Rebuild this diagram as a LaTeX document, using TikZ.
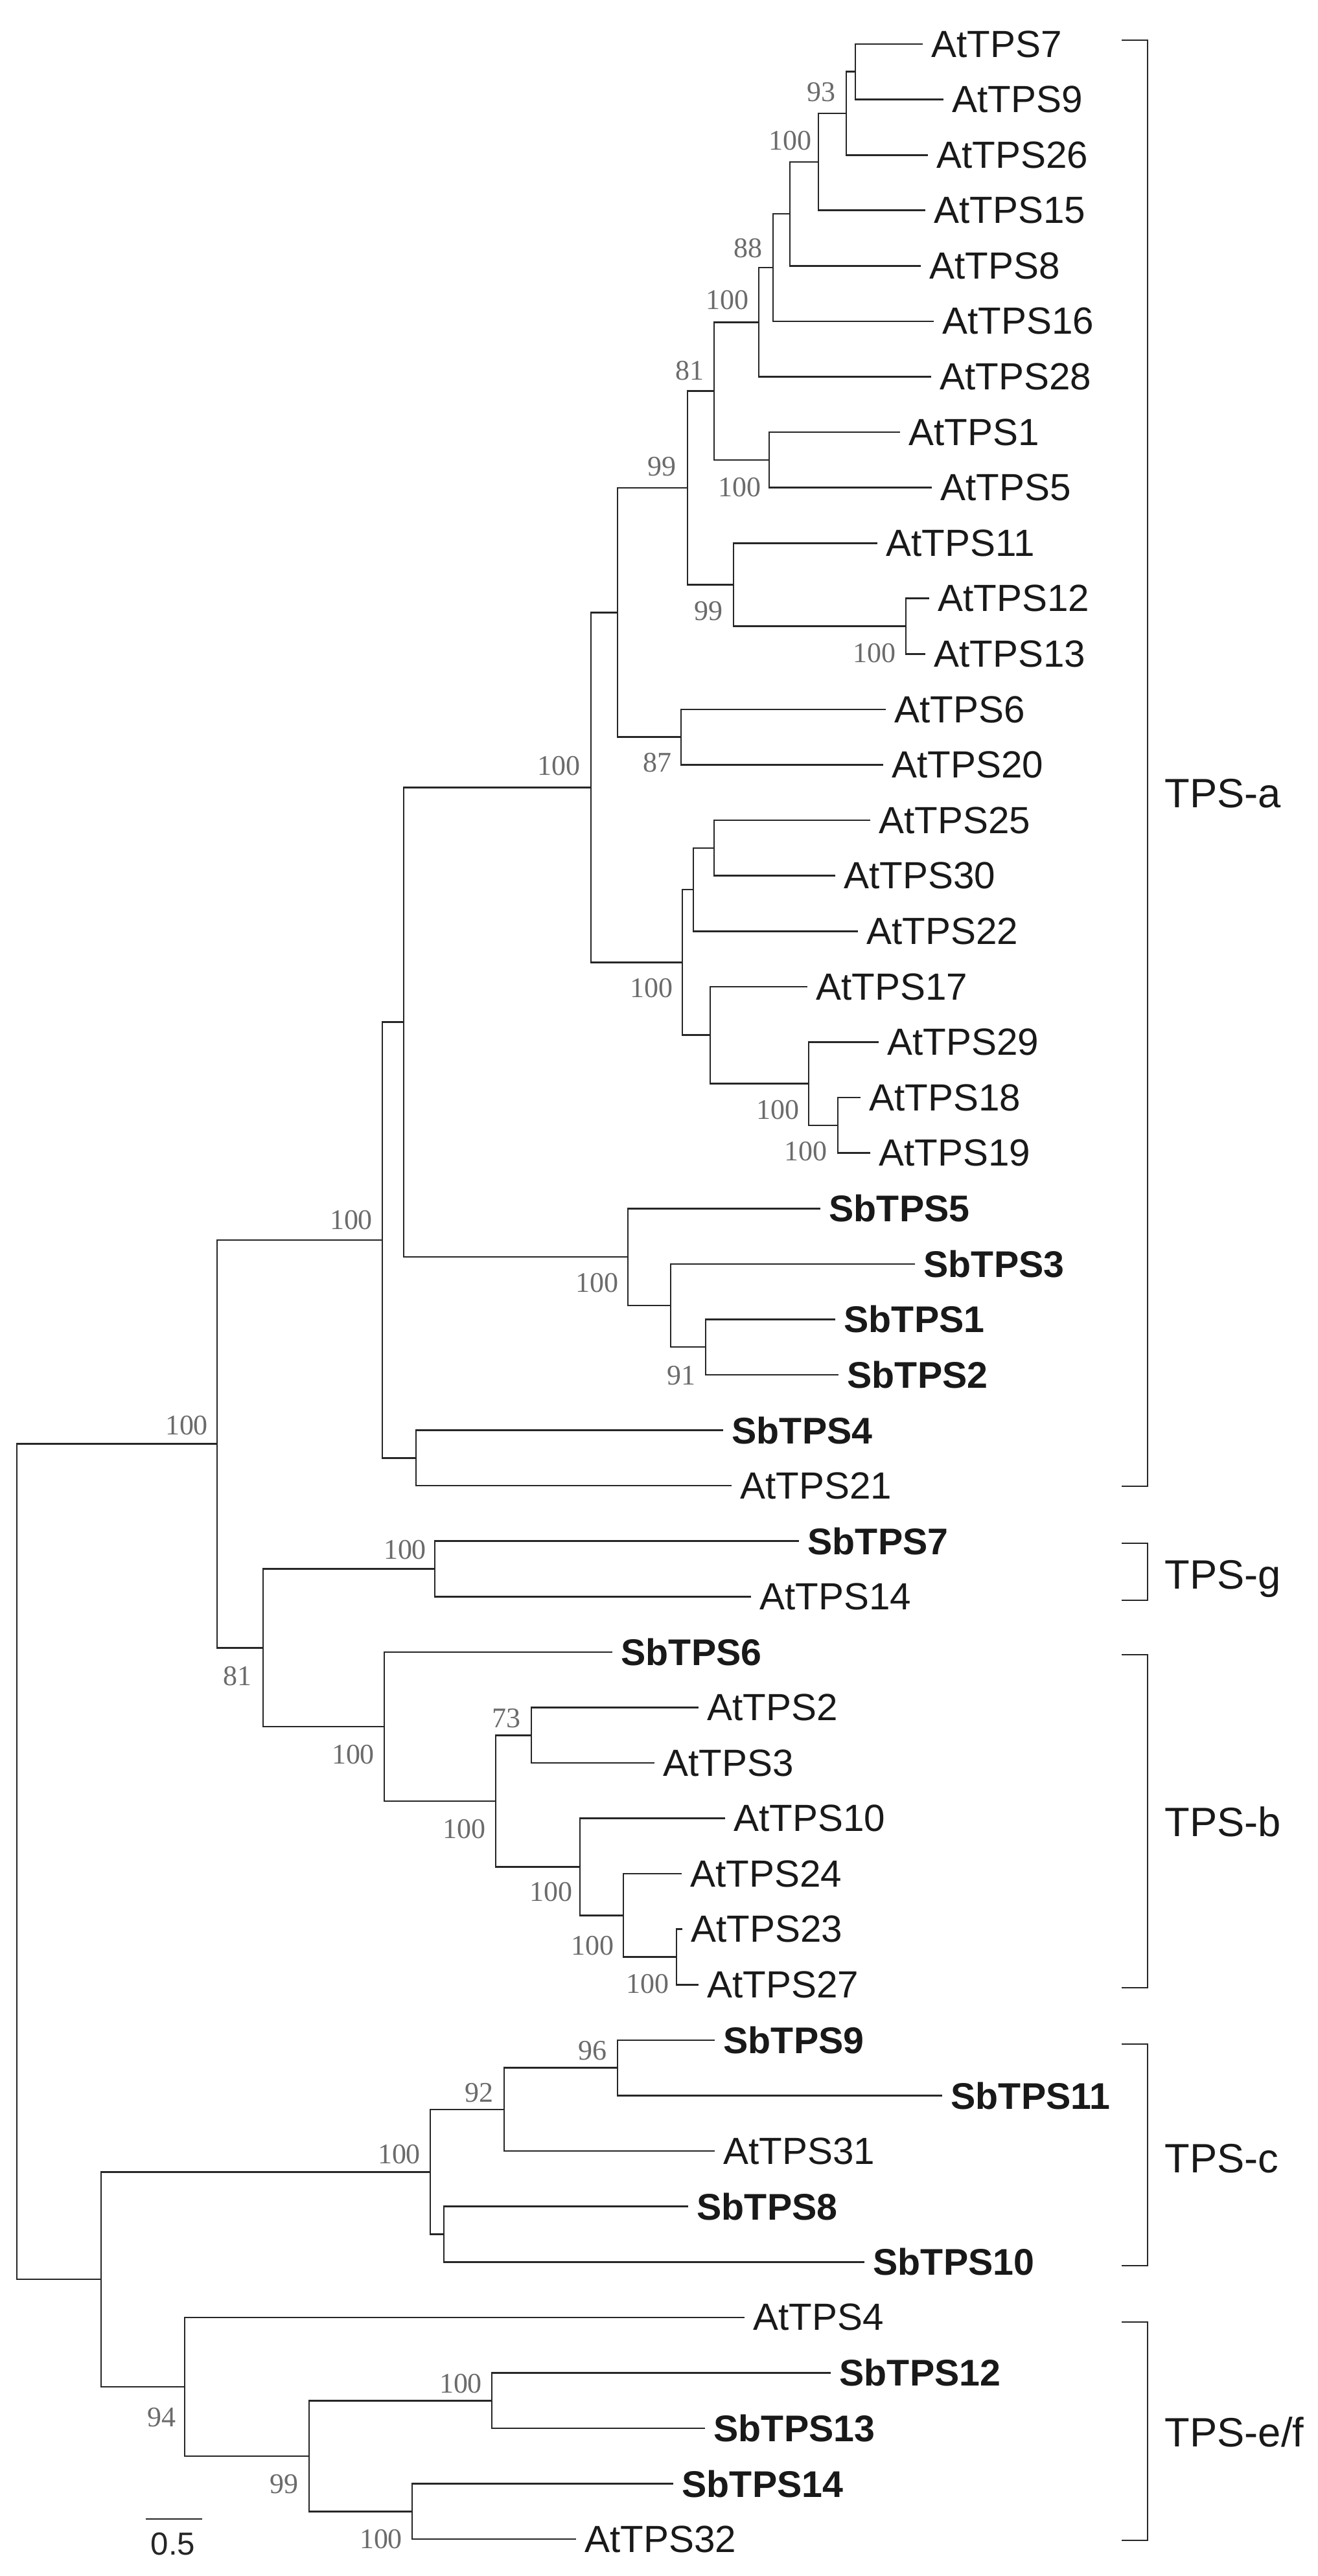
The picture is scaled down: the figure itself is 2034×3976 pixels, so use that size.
\documentclass[tikz,border=0pt]{standalone}
\usepackage{fontspec}
\setmainfont{Liberation Sans}
\newfontfamily\bsfont{Liberation Serif}
\begin{document}
\begin{tikzpicture}[x=0.01cm,y=-0.01cm,
  br/.style={draw=black!85, line width=0.75pt, line cap=rect, line join=miter},
  leafA/.style={anchor=west, inner sep=0pt, font=\fontsize{16.6}{18}\selectfont, text=black!90},
  leafS/.style={anchor=west, inner sep=0pt, font=\fontsize{16.3}{18}\selectfont\bfseries, text=black!90},
  bs/.style={inner sep=0pt, font=\bsfont\fontsize{12.5}{14}\selectfont, text=black!58},
  grp/.style={anchor=west, inner sep=0pt, font=\fontsize{18}{20}\selectfont, text=black!90}]
\fill[white] (0,0) rectangle (2034,3976);
\useasboundingbox (0,0) rectangle (2034,3976);
\clip (0,0) rectangle (2034,3946);

% ---------- leaf tips ----------
\coordinate (t0) at (1423,68.0);
\coordinate (t1) at (1455,153.6);
\coordinate (t2) at (1431,239.2);
\coordinate (t3) at (1427,324.7);
\coordinate (t4) at (1420,410.3);
\coordinate (t5) at (1440,495.9);
\coordinate (t6) at (1436,581.5);
\coordinate (t7) at (1388,667.1);
\coordinate (t8) at (1437,752.6);
\coordinate (t9) at (1353,838.2);
\coordinate (t10) at (1433,923.8);
\coordinate (t11) at (1427,1009.4);
\coordinate (t12) at (1366,1095.0);
\coordinate (t13) at (1362,1180.5);
\coordinate (t14) at (1342,1266.1);
\coordinate (t15) at (1288,1351.7);
\coordinate (t16) at (1323,1437.3);
\coordinate (t17) at (1245,1522.9);
\coordinate (t18) at (1355,1608.4);
\coordinate (t19) at (1327,1694.0);
\coordinate (t20) at (1342,1779.6);
\coordinate (t21) at (1265,1865.2);
\coordinate (t22) at (1411,1950.8);
\coordinate (t23) at (1288,2036.3);
\coordinate (t24) at (1293,2121.9);
\coordinate (t25) at (1115,2207.5);
\coordinate (t26) at (1128,2293.1);
\coordinate (t27) at (1232,2378.7);
\coordinate (t28) at (1158,2464.2);
\coordinate (t29) at (944,2549.8);
\coordinate (t30) at (1077,2635.4);
\coordinate (t31) at (1009,2721.0);
\coordinate (t32) at (1118,2806.6);
\coordinate (t33) at (1051,2892.1);
\coordinate (t34) at (1052,2977.7);
\coordinate (t35) at (1077,3063.3);
\coordinate (t36) at (1102,3148.9);
\coordinate (t37) at (1453,3234.5);
\coordinate (t38) at (1102,3320.0);
\coordinate (t39) at (1061,3405.6);
\coordinate (t40) at (1333,3491.2);
\coordinate (t41) at (1148,3576.8);
\coordinate (t42) at (1281,3662.4);
\coordinate (t43) at (1087,3747.9);
\coordinate (t44) at (1038,3833.5);
\coordinate (t45) at (888,3919.1);

% ---------- leaf labels ----------
\node[leafA] (l0) at ([xshift=0.14cm]t0) {AtTPS7};
\node[leafA] (l1) at ([xshift=0.14cm]t1) {AtTPS9};
\node[leafA] (l2) at ([xshift=0.14cm]t2) {AtTPS26};
\node[leafA] (l3) at ([xshift=0.14cm]t3) {AtTPS15};
\node[leafA] (l4) at ([xshift=0.14cm]t4) {AtTPS8};
\node[leafA] (l5) at ([xshift=0.14cm]t5) {AtTPS16};
\node[leafA] (l6) at ([xshift=0.14cm]t6) {AtTPS28};
\node[leafA] (l7) at ([xshift=0.14cm]t7) {AtTPS1};
\node[leafA] (l8) at ([xshift=0.14cm]t8) {AtTPS5};
\node[leafA] (l9) at ([xshift=0.14cm]t9) {AtTPS11};
\node[leafA] (l10) at ([xshift=0.14cm]t10) {AtTPS12};
\node[leafA] (l11) at ([xshift=0.14cm]t11) {AtTPS13};
\node[leafA] (l12) at ([xshift=0.14cm]t12) {AtTPS6};
\node[leafA] (l13) at ([xshift=0.14cm]t13) {AtTPS20};
\node[leafA] (l14) at ([xshift=0.14cm]t14) {AtTPS25};
\node[leafA] (l15) at ([xshift=0.14cm]t15) {AtTPS30};
\node[leafA] (l16) at ([xshift=0.14cm]t16) {AtTPS22};
\node[leafA] (l17) at ([xshift=0.14cm]t17) {AtTPS17};
\node[leafA] (l18) at ([xshift=0.14cm]t18) {AtTPS29};
\node[leafA] (l19) at ([xshift=0.14cm]t19) {AtTPS18};
\node[leafA] (l20) at ([xshift=0.14cm]t20) {AtTPS19};
\node[leafS] (l21) at ([xshift=0.14cm]t21) {SbTPS5};
\node[leafS] (l22) at ([xshift=0.14cm]t22) {SbTPS3};
\node[leafS] (l23) at ([xshift=0.14cm]t23) {SbTPS1};
\node[leafS] (l24) at ([xshift=0.14cm]t24) {SbTPS2};
\node[leafS] (l25) at ([xshift=0.14cm]t25) {SbTPS4};
\node[leafA] (l26) at ([xshift=0.14cm]t26) {AtTPS21};
\node[leafS] (l27) at ([xshift=0.14cm]t27) {SbTPS7};
\node[leafA] (l28) at ([xshift=0.14cm]t28) {AtTPS14};
\node[leafS] (l29) at ([xshift=0.14cm]t29) {SbTPS6};
\node[leafA] (l30) at ([xshift=0.14cm]t30) {AtTPS2};
\node[leafA] (l31) at ([xshift=0.14cm]t31) {AtTPS3};
\node[leafA] (l32) at ([xshift=0.14cm]t32) {AtTPS10};
\node[leafA] (l33) at ([xshift=0.14cm]t33) {AtTPS24};
\node[leafA] (l34) at ([xshift=0.14cm]t34) {AtTPS23};
\node[leafA] (l35) at ([xshift=0.14cm]t35) {AtTPS27};
\node[leafS] (l36) at ([xshift=0.14cm]t36) {SbTPS9};
\node[leafS] (l37) at ([xshift=0.14cm]t37) {SbTPS11};
\node[leafA] (l38) at ([xshift=0.14cm]t38) {AtTPS31};
\node[leafS] (l39) at ([xshift=0.14cm]t39) {SbTPS8};
\node[leafS] (l40) at ([xshift=0.14cm]t40) {SbTPS10};
\node[leafA] (l41) at ([xshift=0.14cm]t41) {AtTPS4};
\node[leafS] (l42) at ([xshift=0.14cm]t42) {SbTPS12};
\node[leafS] (l43) at ([xshift=0.14cm]t43) {SbTPS13};
\node[leafS] (l44) at ([xshift=0.14cm]t44) {SbTPS14};
\node[leafA] (l45) at ([xshift=0.14cm]t45) {AtTPS32};

% ---------- internal nodes ----------
\coordinate (N1) at (1320,110.8);
\coordinate (N2) at (1306,175.0);
\coordinate (N3) at (1263,249.9);
\coordinate (N4) at (1219,330.1);
\coordinate (N5) at (1193,413.0);
\coordinate (N6) at (1171,497.3);
\coordinate (N15) at (1187,709.9);
\coordinate (N7) at (1102,603.6);
\coordinate (N1213) at (1398,966.6);
\coordinate (Nk11) at (1132,902.4);
\coordinate (N8) at (1061,753.0);
\coordinate (N620) at (1051,1137.8);
\coordinate (N9) at (953,945.4);
\coordinate (N2530) at (1102,1308.9);
\coordinate (N22) at (1070,1373.1);
\coordinate (N1819) at (1293,1736.8);
\coordinate (N29) at (1248,1672.6);
\coordinate (N17) at (1096,1597.8);
\coordinate (N10) at (1053,1485.4);
\coordinate (N11b) at (912,1215.4);
\coordinate (Ns12) at (1089,2079.1);
\coordinate (Ns3) at (1035,2015.0);
\coordinate (Ns5) at (969,1940.1);
\coordinate (Na1) at (623,1577.7);
\coordinate (N421) at (642,2250.3);
\coordinate (Na) at (590,1914.0);
\coordinate (N714) at (671,2421.5);
\coordinate (N23) at (820,2678.2);
\coordinate (N2327) at (1044,3020.5);
\coordinate (N24) at (962,2956.3);
\coordinate (N10b) at (895,2881.5);
\coordinate (Nb2) at (765,2779.9);
\coordinate (Nb) at (593,2664.9);
\coordinate (Ngb) at (406,2543.2);
\coordinate (Nagb) at (335,2228.6);
\coordinate (N911) at (953,3191.7);
\coordinate (N31) at (778,3255.9);
\coordinate (N810) at (685,3448.4);
\coordinate (Nc) at (664,3352.2);
\coordinate (Ns1213) at (759,3705.2);
\coordinate (N1432) at (636,3876.3);
\coordinate (Nef2) at (477,3790.8);
\coordinate (Nef) at (285,3683.8);
\coordinate (Ncef) at (156,3518.0);
\coordinate (root) at (26,2873.3);

% ---------- branches ----------
\draw[br] (t0) -| (N1) |- (t1);
\draw[br] (N1) -| (N2) |- (t2);
\draw[br] (N2) -| (N3) |- (t3);
\draw[br] (N3) -| (N4) |- (t4);
\draw[br] (N4) -| (N5) |- (t5);
\draw[br] (N5) -| (N6) |- (t6);
\draw[br] (t7) -| (N15) |- (t8);
\draw[br] (N6) -| (N7) |- (N15);
\draw[br] (t10) -| (N1213) |- (t11);
\draw[br] (t9) -| (Nk11) |- (N1213);
\draw[br] (N7) -| (N8) |- (Nk11);
\draw[br] (t12) -| (N620) |- (t13);
\draw[br] (N8) -| (N9) |- (N620);
\draw[br] (t14) -| (N2530) |- (t15);
\draw[br] (N2530) -| (N22) |- (t16);
\draw[br] (t19) -| (N1819) |- (t20);
\draw[br] (t18) -| (N29) |- (N1819);
\draw[br] (t17) -| (N17) |- (N29);
\draw[br] (N22) -| (N10) |- (N17);
\draw[br] (N9) -| (N11b) |- (N10);
\draw[br] (t23) -| (Ns12) |- (t24);
\draw[br] (t22) -| (Ns3) |- (Ns12);
\draw[br] (t21) -| (Ns5) |- (Ns3);
\draw[br] (N11b) -| (Na1) |- (Ns5);
\draw[br] (t25) -| (N421) |- (t26);
\draw[br] (Na1) -| (Na) |- (N421);
\draw[br] (t27) -| (N714) |- (t28);
\draw[br] (t30) -| (N23) |- (t31);
\draw[br] (t34) -| (N2327) |- (t35);
\draw[br] (t33) -| (N24) |- (N2327);
\draw[br] (t32) -| (N10b) |- (N24);
\draw[br] (N23) -| (Nb2) |- (N10b);
\draw[br] (t29) -| (Nb) |- (Nb2);
\draw[br] (N714) -| (Ngb) |- (Nb);
\draw[br] (Na) -| (Nagb) |- (Ngb);
\draw[br] (t36) -| (N911) |- (t37);
\draw[br] (N911) -| (N31) |- (t38);
\draw[br] (t39) -| (N810) |- (t40);
\draw[br] (N31) -| (Nc) |- (N810);
\draw[br] (t42) -| (Ns1213) |- (t43);
\draw[br] (t44) -| (N1432) |- (t45);
\draw[br] (Ns1213) -| (Nef2) |- (N1432);
\draw[br] (t41) -| (Nef) |- (Nef2);
\draw[br] (Nc) -| (Ncef) |- (Nef);
\draw[br] (Nagb) -| (root) |- (Ncef);

% ---------- bootstrap values ----------
\node[bs] (b1) at (1267,142) {93};
\node[bs] (b2) at (1219,217) {100};
\node[bs] (b3) at (1154,383) {88};
\node[bs] (b4) at (1122,463) {100};
\node[bs] (b5) at (1064,572) {81};
\node[bs] (b6) at (1021,720) {99};
\node[bs] (b7) at (1141,752) {100};
\node[bs] (b8) at (1093,943) {99};
\node[bs] (b9) at (1349,1008) {100};
\node[bs] (b10) at (862,1182) {100};
\node[bs] (b11) at (1014,1177) {87};
\node[bs] (b12) at (1005,1525) {100};
\node[bs] (b13) at (1200,1713) {100};
\node[bs] (b14) at (1243,1777) {100};
\node[bs] (b15) at (542,1883) {100};
\node[bs] (b16) at (921,1980) {100};
\node[bs] (b17) at (1051,2123) {91};
\node[bs] (b18) at (288,2200) {100};
\node[bs] (b19) at (625,2392) {100};
\node[bs] (b20) at (366,2587) {81};
\node[bs] (b21) at (781,2652) {73};
\node[bs] (b22) at (545,2708) {100};
\node[bs] (b23) at (716,2823) {100};
\node[bs] (b24) at (850,2920) {100};
\node[bs] (b25) at (914,3003) {100};
\node[bs] (b26) at (999,3062) {100};
\node[bs] (b27) at (914,3165) {96};
\node[bs] (b28) at (739,3230) {92};
\node[bs] (b29) at (616,3325) {100};
\node[bs] (b30) at (711,3679) {100};
\node[bs] (b31) at (249,3731) {94};
\node[bs] (b32) at (438,3834) {99};
\node[bs] (b33) at (588,3919) {100};

% ---------- group brackets ----------
\coordinate (gaT) at (1732,62);   \coordinate (gaB) at (1732,2294);
\coordinate (ggT) at (1732,2382); \coordinate (ggB) at (1732,2470);
\coordinate (gbT) at (1732,2554); \coordinate (gbB) at (1732,3068);
\coordinate (gcT) at (1732,3155); \coordinate (gcB) at (1732,3497);
\coordinate (geT) at (1732,3584); \coordinate (geB) at (1732,3921);
\draw[br] (gaT) -- ++(39,0) |- (gaB);
\draw[br] (ggT) -- ++(39,0) |- (ggB);
\draw[br] (gbT) -- ++(39,0) |- (gbB);
\draw[br] (gcT) -- ++(39,0) |- (gcB);
\draw[br] (geT) -- ++(39,0) |- (geB);
\node[grp] (ga) at (1797,1225) {TPS-a};
\node[grp] (gg) at (1797,2437) {TPS-g};
\node[grp] (gb) at (1797,2812) {TPS-b};
\node[grp] (gc) at (1797,3332) {TPS-c};
\node[grp] (ge) at (1797,3754) {TPS-e/f};

% ---------- scale bar ----------
\coordinate (sb1) at (225,3888);
\coordinate (sb2) at (312,3888);
\draw[br, line cap=butt] (sb1) -- (sb2);
\node[anchor=north, inner sep=0pt, font=\fontsize{14}{16}\selectfont, text=black!85] (sbl) at (267,3908) {0.5};
\end{tikzpicture}
\end{document}
